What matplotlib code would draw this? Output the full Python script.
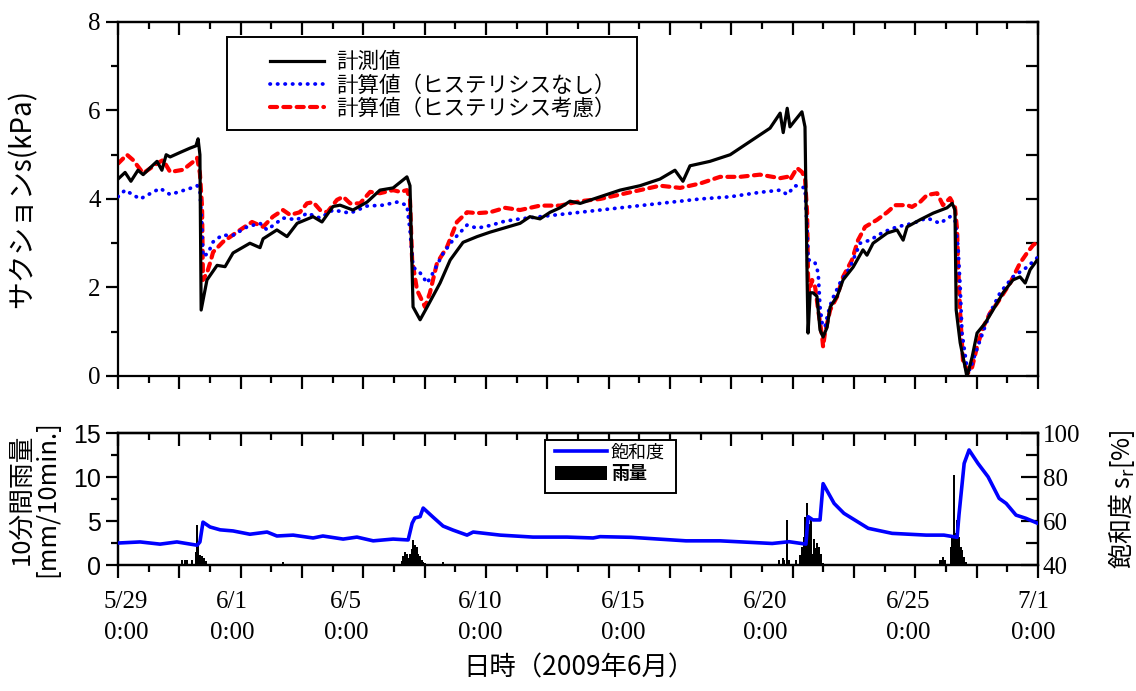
import matplotlib
matplotlib.use('Agg')
import matplotlib.pyplot as plt
from matplotlib.ticker import MultipleLocator
from matplotlib.patches import Rectangle
from matplotlib.transforms import blended_transform_factory

# time axis in tick units: 0 = 5/29 0:00, 30 = 7/1 0:00 (one minor tick per unit)
t_meas = [0.00, 0.23, 0.42, 0.65, 0.82, 1.04, 1.27, 1.43, 1.57, 1.70, 2.02, 2.35, 2.54, 2.61, 2.67,
          2.71, 2.90, 3.23, 3.49, 3.75, 4.30, 4.63, 4.73, 5.18, 5.51, 5.84, 6.36, 6.65, 7.01, 7.24,
          7.66, 8.12, 8.54, 8.97, 9.42, 9.52, 9.62, 9.85, 10.08, 10.50, 10.83, 11.25, 11.71, 12.13,
          12.62, 13.11, 13.43, 13.76, 14.09, 14.41, 14.74, 15.07, 15.72, 16.37, 17.02, 17.67, 18.16,
          18.42, 18.65, 19.30, 19.96, 20.61, 21.26, 21.59, 21.69, 21.82, 21.91, 22.08, 22.30, 22.40,
          22.47, 22.50, 22.57, 22.66, 22.79, 22.89, 22.99, 23.12, 23.22, 23.45, 23.64, 23.97, 24.29,
          24.42, 24.62, 25.08, 25.40, 25.60, 25.73, 26.15, 26.58, 27.03, 27.20, 27.29, 27.33, 27.46,
          27.62, 27.68, 27.85, 28.01, 28.27, 28.53, 28.86, 29.18, 29.41, 29.58, 29.74, 29.97, 30.0]
s_meas = [4.45, 4.6, 4.4, 4.65, 4.55, 4.7, 4.85, 4.65, 5.0, 4.95, 5.05, 5.15, 5.2, 5.36, 5.0,
          1.49, 2.17, 2.5, 2.47, 2.78, 3.0, 2.9, 3.1, 3.3, 3.15, 3.45, 3.6, 3.48, 3.83, 3.86,
          3.75, 3.93, 4.2, 4.25, 4.5, 4.3, 1.56, 1.27, 1.56, 2.1, 2.62, 3.02, 3.15, 3.25,
          3.35, 3.45, 3.6, 3.55, 3.7, 3.8, 3.95, 3.9, 4.05, 4.2, 4.3, 4.45, 4.65,
          4.4, 4.75, 4.85, 5.0, 5.3, 5.6, 5.94, 5.5, 6.05, 5.63, 5.78, 5.97, 5.63,
          2.17, 0.97, 1.88, 1.88, 1.8, 1.04, 0.88, 1.1, 1.56, 1.8, 2.17, 2.46, 2.85,
          2.73, 3.0, 3.23, 3.3, 3.07, 3.37, 3.53, 3.68, 3.8, 3.9, 3.75, 1.49, 0.75,
          0.2, -0.02, 0.43, 0.97, 1.19, 1.49, 1.88, 2.17, 2.24, 2.1, 2.4, 2.62, 2.6]

t_nohys = [0.0, 0.23, 0.72, 1.37, 1.70, 2.35, 2.58, 2.67, 2.74, 2.77, 2.93, 3.10, 3.39, 3.75, 4.21,
           4.63, 4.86, 5.38, 5.84, 6.16, 6.59, 7.01, 7.57, 8.12, 8.64, 9.10, 9.42, 9.52, 9.62, 9.85,
           10.08, 10.27, 10.60, 10.92, 11.38, 11.71, 12.13, 12.62, 13.11, 13.76, 14.41, 15.07, 15.72,
           16.37, 17.02, 17.67, 18.33, 18.98, 19.96, 20.93, 21.59, 21.82, 22.08, 22.40, 22.47, 22.50,
           22.63, 22.73, 22.83, 22.89, 22.96, 23.05, 23.15, 23.28, 23.54, 23.87, 24.20, 24.52, 24.95,
           25.40, 25.92, 26.38, 26.80, 27.13, 27.29, 27.39, 27.46, 27.52, 27.68, 27.78, 27.88, 28.11,
           28.43, 28.76, 29.18, 29.64, 29.97]
s_nohys = [4.05, 4.2, 4.0, 4.24, 4.1, 4.24, 4.3, 4.2, 3.3, 2.7, 2.77, 3.03, 3.18, 3.18, 3.37,
           3.45, 3.3, 3.57, 3.53, 3.68, 3.57, 3.75, 3.68, 3.84, 3.86, 3.93, 3.86, 3.3, 2.46, 2.33,
           2.1, 2.33, 2.77, 3.07, 3.41, 3.34, 3.4, 3.5, 3.55, 3.6, 3.65, 3.7, 3.75,
           3.8, 3.85, 3.9, 3.95, 4.0, 4.05, 4.15, 4.2, 4.1, 4.3, 4.25, 3.3, 2.62,
           2.62, 2.55, 2.33, 1.56, 1.19, 1.1, 1.42, 1.72, 2.1, 2.46, 3.0, 3.07, 3.25,
           3.37, 3.45, 3.57, 3.45, 3.6, 3.53, 2.92, 2.01, 0.97, 0.2, 0.13, 0.36, 0.81,
           1.42, 1.88, 2.24, 2.46, 2.67]

t_hys = [0.0, 0.29, 0.49, 0.82, 1.27, 1.47, 1.70, 2.12, 2.45, 2.58, 2.67, 2.74, 2.77, 2.90, 3.00,
         3.10, 3.42, 3.98, 4.37, 4.73, 5.05, 5.38, 5.61, 5.93, 6.16, 6.36, 6.59, 6.82, 7.14, 7.34,
         7.57, 7.89, 8.22, 8.54, 8.97, 9.20, 9.42, 9.52, 9.59, 9.75, 10.01, 10.17, 10.40, 10.73,
         11.05, 11.38, 11.71, 12.13, 12.62, 13.11, 13.76, 14.41, 15.07, 15.72, 16.37, 17.02, 17.67,
         18.33, 18.98, 19.63, 20.28, 20.93, 21.59, 21.82, 21.91, 22.14, 22.30, 22.40, 22.47, 22.50,
         22.53, 22.63, 22.73, 22.83, 22.96, 22.99, 23.05, 23.22, 23.45, 23.64, 23.93, 24.13, 24.36,
         24.75, 25.08, 25.34, 25.73, 25.89, 26.15, 26.38, 26.71, 26.90, 27.13, 27.29, 27.36, 27.39,
         27.46, 27.55, 27.72, 27.85, 28.01, 28.21, 28.43, 28.66, 29.09, 29.41, 29.64, 29.84, 30.0]
s_hys = [4.8, 5.0, 4.88, 4.58, 4.8, 4.88, 4.61, 4.66, 4.84, 4.93, 4.58, 3.82, 2.17, 2.33, 2.55,
         2.8, 3.03, 3.3, 3.48, 3.37, 3.6, 3.75, 3.64, 3.7, 3.9, 3.93, 3.75, 3.7, 3.98, 4.05,
         3.9, 3.9, 4.16, 4.13, 4.2, 4.16, 4.2, 3.98, 2.62, 1.94, 1.56, 1.88, 2.55, 2.92,
         3.48, 3.7, 3.68, 3.7, 3.8, 3.75, 3.85, 3.85, 3.95, 4.0, 4.1, 4.2, 4.3,
         4.25, 4.35, 4.5, 4.5, 4.55, 4.47, 4.5, 4.43, 4.7, 4.61, 4.47, 3.68, 2.24,
         1.88, 2.17, 2.01, 1.49, 0.88, 0.66, 0.97, 1.49, 1.8, 2.24, 2.62, 3.07, 3.37,
         3.53, 3.7, 3.86, 3.86, 3.82, 3.93, 4.09, 4.13, 3.86, 4.02, 3.82, 3.3, 2.55,
         1.42, 0.36, 0.07, 0.2, 0.66, 1.1, 1.42, 1.64, 2.1, 2.55, 2.78, 2.96, 3.03]

t_sr = [0.0, 0.72, 1.37, 1.92, 2.58, 2.67, 2.77, 3.00, 3.33, 3.75, 4.30, 4.86, 5.18, 5.71, 6.36,
        6.68, 7.34, 7.79, 8.32, 8.97, 9.46, 9.59, 9.68, 9.85, 9.95, 10.27, 10.60, 10.92, 11.38,
        11.58, 12.46, 13.53, 14.64, 15.49, 15.72, 16.73, 18.52, 19.63, 21.33, 21.88, 22.43, 22.50,
        22.66, 22.89, 22.99, 23.35, 23.67, 24.46, 25.24, 26.35, 26.93, 27.36, 27.42, 27.59, 27.75,
        28.04, 28.37, 28.73, 28.96, 29.28, 29.61, 30.0]
sr = [50, 50.5, 49.5, 50.5, 49, 50.5, 59.5, 57.3, 56, 55.5, 54, 55, 53.2, 53.6, 52.3,
      53.2, 51.8, 52.7, 51, 51.8, 51.4, 59, 61.4, 62, 65.9, 61.8, 57.7, 55.9, 53.6,
      55, 53.6, 52.7, 52.7, 52.3, 52.9, 52.6, 51.0, 51.0, 49.8, 50.6, 49.5, 62,
      60.5, 60.5, 77, 68, 63.5, 56.7, 54.4, 53.6, 53.6, 52.6, 62.7, 86.2, 92.3,
      86.2, 80.1, 70.3, 68, 62.7, 61.2, 58.9]

t_rain = [2.09, 2.18, 2.25, 2.41, 2.54, 2.58, 2.61, 2.67, 2.74, 2.80, 2.87, 5.38,
          9.26, 9.29, 9.36, 9.42, 9.46, 9.52, 9.59, 9.62, 9.68, 9.75, 9.78, 9.85, 9.91, 9.95, 10.01,
          10.60,
          21.55, 21.68, 21.72, 21.82, 21.88, 22.11, 22.24, 22.30, 22.37, 22.40, 22.47, 22.53, 22.60,
          22.63, 22.70, 22.76, 22.79, 22.86, 22.92, 22.99,
          26.80, 26.84, 26.90, 26.97, 27.16, 27.20, 27.26, 27.33, 27.36, 27.42, 27.49, 27.52, 27.59,
          27.66]
rain = [0.6, 0.6, 0.6, 0.6, 1.5, 4.5, 2.5, 1.1, 1.0, 0.8, 0.5, 0.35,
        0.5, 1.0, 1.5, 1.2, 0.8, 1.3, 1.8, 2.8, 2.3, 2.0, 1.3, 1.0, 0.6, 0.4, 0.2,
        0.4,
        0.57, 0.76, 0.57, 5.1, 0.57, 0.57, 1.1, 2.1, 3.2, 5.5, 7.1, 4.7, 5.5,
        1.3, 3.0, 1.9, 2.5, 2.1, 1.3, 0.2,
        0.57, 0.57, 0.95, 0.57, 2.1, 3.2, 10.2, 3.6, 5.1, 3.2, 2.1, 1.7, 0.95,
        0.4]

date_pos = [0.26, 3.72, 7.43, 11.8, 16.47, 21.1, 25.76, 29.85]
date_text = ['5/29', '6/1', '6/5', '6/10', '6/15', '6/20', '6/25', '7/1']

JP = 'Noto Sans CJK JP'
plt.rcParams['font.family'] = ['Liberation Serif', JP]
plt.rcParams['axes.linewidth'] = 1.6

fig = plt.figure(figsize=(11.36, 6.91), dpi=100)
ax1 = fig.add_axes([0.1039, 0.4559, 0.8099, 0.5123])
ax2 = fig.add_axes([0.1039, 0.1823, 0.8099, 0.1910])

# ---- suction
ax1.plot(t_meas, s_meas, color='black', lw=2.3, label='計測値', zorder=4)
ax1.plot(t_nohys, s_nohys, color='blue', lw=2.7, ls=(0, (0.1, 1.9)), dash_capstyle='round',
         label='計算値（ヒステリシスなし）', zorder=3)
ax1.plot(t_hys, s_hys, color='red', lw=3.0, ls=(0, (1.7, 1.5)), dash_capstyle='round',
         label='計算値（ヒステリシス考慮）', zorder=2)
ax1.set_xlim(0, 30)
ax1.set_ylim(0, 8)
ax1.xaxis.set_major_locator(MultipleLocator(2))
ax1.xaxis.set_minor_locator(MultipleLocator(1))
ax1.yaxis.set_major_locator(MultipleLocator(2))
ax1.yaxis.set_minor_locator(MultipleLocator(1))
ax1.tick_params(which='both', direction='out', width=1.6, labelbottom=False, labelsize=18)
ax1.tick_params(which='major', length=9)
ax1.tick_params(which='minor', length=5)
ax1.set_ylabel('サクションs(kPa)', family=JP, fontsize=20)
ax1.yaxis.set_label_coords(-0.088, 0.5)

top1 = ax1.secondary_xaxis('top')
top1.xaxis.set_major_locator(MultipleLocator(2))
top1.xaxis.set_minor_locator(MultipleLocator(1))
top1.tick_params(which='both', direction='in', width=1.6, labeltop=False)
top1.tick_params(which='major', length=9)
top1.tick_params(which='minor', length=5)
right1 = ax1.secondary_yaxis('right')
right1.yaxis.set_major_locator(MultipleLocator(1))
right1.tick_params(which='both', direction='in', width=1.6, length=9, labelright=False)

ax1.add_patch(Rectangle((0.1185, 0.695), 0.4457, 0.2627, transform=ax1.transAxes,
                        facecolor='white', edgecolor='black', lw=1.4, zorder=5))
leg1 = ax1.legend(loc='upper left', bbox_to_anchor=(0.165, 0.917), frameon=False,
                  prop={'family': JP, 'size': 15.5}, handlelength=2.5, handletextpad=0.6,
                  labelspacing=0.05, borderpad=0, borderaxespad=0)
leg1.set_zorder(6)

# ---- rain and saturation
ax2.bar(t_rain, rain, width=0.07, color='black', label='雨量', zorder=2)
ax2.set_xlim(0, 30)
ax2.set_ylim(0, 15)
ax2.xaxis.set_major_locator(MultipleLocator(2))
ax2.xaxis.set_minor_locator(MultipleLocator(1))
ax2.yaxis.set_minor_locator(MultipleLocator(2.5))
ax2.set_yticks([0, 5, 10, 15])
ax2.set_yticklabels(['0', '5', '10', '15'], family='Liberation Sans', fontsize=18)
ax2.tick_params(which='both', direction='out', width=1.6, labelbottom=False)
ax2.tick_params(which='major', length=9)
ax2.tick_params(which='minor', length=5)
ax2.set_ylabel('10分間雨量\n[mm/10min.]', family=JP, fontsize=18.5, linespacing=1.0)
ax2.yaxis.set_label_coords(-0.063, 0.5)

top2 = ax2.secondary_xaxis('top')
top2.xaxis.set_major_locator(MultipleLocator(2))
top2.xaxis.set_minor_locator(MultipleLocator(1))
top2.tick_params(which='both', direction='in', width=1.6, labeltop=False)
top2.tick_params(which='major', length=9)
top2.tick_params(which='minor', length=5)

ax3 = ax2.twinx()
ax3.plot(t_sr, sr, color='blue', lw=2.6, label='飽和度', zorder=3)
ax3.set_ylim(40, 100)
ax3.yaxis.set_major_locator(MultipleLocator(20))
ax3.yaxis.set_minor_locator(MultipleLocator(10))
ax3.tick_params(which='both', direction='in', width=1.6, labelsize=18)
ax3.tick_params(which='major', length=12)
ax3.tick_params(which='minor', length=9)
ax3.set_ylabel('飽和度 s$_\\mathrm{r}$[%]', family=JP, fontsize=18)
ax3.yaxis.set_label_coords(1.074, 0.5)

tr = blended_transform_factory(ax2.transData, ax2.transAxes)
for p, d in zip(date_pos, date_text):
    ax2.text(p, -0.2, d + '\n0:00', transform=tr, ha='center', va='top', fontsize=18,
             linespacing=1.5, family='Liberation Serif')

fig.text(0.51, 0.033, '日時（2009年6月）', ha='center', va='center', family=JP, fontsize=19)

ax3.add_patch(Rectangle((0.464, 0.545), 0.1424, 0.4015, transform=ax3.transAxes,
                        facecolor='white', edgecolor='black', lw=1.4, zorder=5))
h3, l3 = ax3.get_legend_handles_labels()
h2, l2 = ax2.get_legend_handles_labels()
leg2 = ax3.legend(h3 + h2, l3 + l2, loc='upper left', bbox_to_anchor=(0.475, 0.92),
                  frameon=False, prop={'family': JP, 'size': 13}, handlelength=2.9,
                  handleheight=0.8, handletextpad=0.2, labelspacing=0.15, borderpad=0,
                  borderaxespad=0)
leg2.set_zorder(6)
leg2.get_texts()[1].set_fontweight('bold')

fig.savefig('out.png', dpi=100)
